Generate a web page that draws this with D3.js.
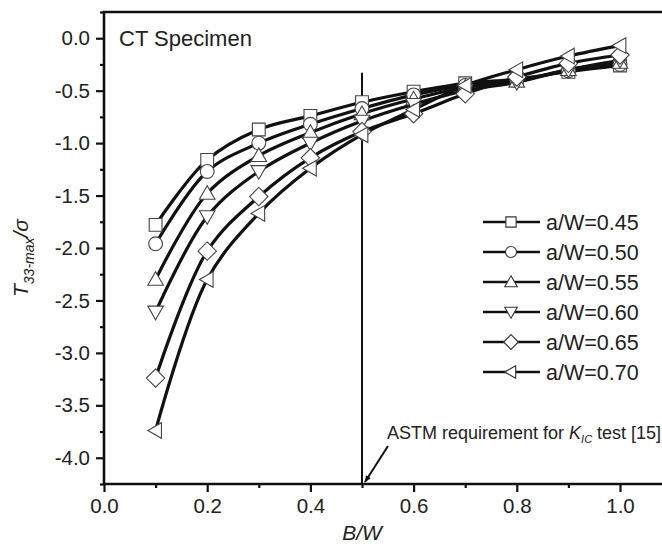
<!DOCTYPE html>
<html><head><meta charset="utf-8">
<script src="https://cdn.jsdelivr.net/npm/d3@7/dist/d3.min.js"></script>
<style>body{margin:0;background:#fff}svg{display:block}</style>
</head><body>
<svg id="chart" width="662" height="546"></svg>
<script>
// ---- data ----
const bwValues = [0.1, 0.2, 0.3, 0.4, 0.5, 0.6, 0.7, 0.8, 0.9, 1.0];
const seriesNames = ["a/W=0.45", "a/W=0.50", "a/W=0.55", "a/W=0.60", "a/W=0.65", "a/W=0.70"];
const aw045 = [-1.78, -1.16, -0.87, -0.74, -0.61, -0.51, -0.43, -0.39, -0.32, -0.26];
const aw050 = [-1.96, -1.27, -1.00, -0.82, -0.67, -0.54, -0.45, -0.40, -0.31, -0.25];
const aw055 = [-2.30, -1.48, -1.12, -0.90, -0.72, -0.58, -0.47, -0.41, -0.30, -0.23];
const aw060 = [-2.61, -1.70, -1.27, -1.00, -0.79, -0.63, -0.50, -0.42, -0.30, -0.21];
const aw065 = [-3.24, -2.03, -1.51, -1.14, -0.89, -0.72, -0.53, -0.37, -0.24, -0.16];
const aw070 = [-3.74, -2.30, -1.67, -1.24, -0.92, -0.68, -0.45, -0.30, -0.17, -0.07];
const seriesValues = [aw045, aw050, aw055, aw060, aw065, aw070];
const markerTypes = ["square", "circle", "triUp", "triDown", "diamond", "triLeft"];
const xTickValues = [0.0, 0.2, 0.4, 0.6, 0.8, 1.0];
const yTickValues = [0.0, -0.5, -1.0, -1.5, -2.0, -2.5, -3.0, -3.5, -4.0];
const astmBW = 0.5;

// ---- layout ----
const svg = d3.select("#chart");
const FONT = "'Liberation Sans', Arial, sans-serif";
const x = d3.scaleLinear().domain([0, 1.1]).range([104, 671.6]);
const y = d3.scaleLinear().domain([-4.25, 0.25]).range([484, 12]);

function markerPath(type, k) {
  const p = d3.path();
  if (type === "square") { const h = 6.4 * k; p.rect(-h, -h, 2 * h, 2 * h); }
  else if (type === "circle") { const r = 6.9 * k; p.moveTo(r, 0); p.arc(0, 0, r, 0, 2 * Math.PI); }
  else if (type === "triUp") { const h = 7.8 * k; p.moveTo(0, -h); p.lineTo(h, h * 0.75); p.lineTo(-h, h * 0.75); p.closePath(); }
  else if (type === "triDown") { const h = 7.8 * k; p.moveTo(0, h); p.lineTo(h, -h * 0.75); p.lineTo(-h, -h * 0.75); p.closePath(); }
  else if (type === "diamond") { const h = 9.2 * k; p.moveTo(0, -h); p.lineTo(h, 0); p.lineTo(0, h); p.lineTo(-h, 0); p.closePath(); }
  else if (type === "triLeft") { const h = 7.8 * k; p.moveTo(-h, 0); p.lineTo(h * 0.75, -h); p.lineTo(h * 0.75, h); p.closePath(); }
  return p.toString();
}

// axes
const xAxis = d3.axisBottom(x).tickValues(xTickValues).tickFormat(d3.format(".1f")).tickSize(8).tickPadding(6);
const xMinor = d3.axisBottom(x).tickValues([0.1, 0.3, 0.5, 0.7, 0.9]).tickFormat("").tickSize(4);
const yAxis = d3.axisLeft(y).tickValues(yTickValues).tickFormat(d => d3.format(".1f")(d).replace("−", "-")).tickSize(8).tickPadding(6);
const yMinor = d3.axisLeft(y).tickValues([0.25, -0.25, -0.75, -1.25, -1.75, -2.25, -2.75, -3.25, -3.75, -4.25]).tickFormat("").tickSize(4);

function styleAxis(g) {
  g.select(".domain").remove();
  g.selectAll(".tick line").attr("stroke", "#111").attr("stroke-width", 2.2);
  g.selectAll(".tick text").attr("font-family", FONT).attr("font-size", 20.5).attr("fill", "#222");
}
svg.append("g").attr("transform", `translate(0,${y(-4.25)})`).call(xAxis).call(styleAxis);
svg.append("g").attr("transform", `translate(0,${y(-4.25)})`).call(xMinor).call(styleAxis);
svg.append("g").attr("transform", `translate(${x(0)},0)`).call(yAxis).call(styleAxis);
svg.append("g").attr("transform", `translate(${x(0)},0)`).call(yMinor).call(styleAxis);

// frame
svg.append("path")
  .attr("d", `M${x(1.1)},${y(0.25)}H${x(0)}V${y(-4.25)}H${x(1.1)}`)
  .attr("fill", "none").attr("stroke", "#111").attr("stroke-width", 2.6);

// curves
const line = d3.line().x(d => x(d[0])).y(d => y(d[1])).curve(d3.curveCatmullRom.alpha(0.5));
seriesValues.forEach((vals, i) => {
  const pts = bwValues.map((b, j) => [b, vals[j]]);
  svg.append("path").attr("d", line(pts)).attr("fill", "none")
    .attr("stroke", "#111").attr("stroke-width", 3.2);
});

// ASTM vertical line
svg.append("line").attr("x1", x(astmBW)).attr("x2", x(astmBW))
  .attr("y1", y(-0.33)).attr("y2", y(-4.25))
  .attr("stroke", "#111").attr("stroke-width", 2);

// markers
seriesValues.forEach((vals, i) => {
  svg.append("g").selectAll("path").data(bwValues.map((b, j) => [b, vals[j]])).join("path")
    .attr("transform", d => `translate(${x(d[0])},${y(d[1])})`)
    .attr("d", markerPath(markerTypes[i], 1))
    .attr("fill", "#fff").attr("stroke", "#444").attr("stroke-width", 1.1);
});

// text: CT Specimen
svg.append("text").attr("x", 119).attr("y", 46).attr("font-family", FONT)
  .attr("font-size", 22).attr("fill", "#222").text("CT Specimen");

// legend
const legY0 = 222, legDy = 30;
seriesNames.forEach((name, i) => {
  const g = svg.append("g").attr("transform", `translate(0,${legY0 + i * legDy})`);
  g.append("line").attr("x1", 483).attr("x2", 540).attr("y1", 0).attr("y2", 0)
    .attr("stroke", "#111").attr("stroke-width", 2.6);
  g.append("path").attr("transform", "translate(511,0)").attr("d", markerPath(markerTypes[i], 0.8))
    .attr("fill", "#fff").attr("stroke", "#333").attr("stroke-width", 1.1);
  g.append("text").attr("x", 546).attr("y", 7.5).attr("font-family", FONT)
    .attr("font-size", 21.5).attr("fill", "#222").text(name);
});

// annotation
svg.append("defs").append("marker").attr("id", "ah").attr("viewBox", "0 0 10 10")
  .attr("refX", 9).attr("refY", 5).attr("markerWidth", 7).attr("markerHeight", 7)
  .attr("orient", "auto-start-reverse").attr("markerUnits", "userSpaceOnUse")
  .append("path").attr("d", "M0,1L10,5L0,9z").attr("fill", "#111");
svg.append("line").attr("x1", 388).attr("y1", 446).attr("x2", x(astmBW) + 3).attr("y2", y(-4.25) - 2)
  .attr("stroke", "#111").attr("stroke-width", 2).attr("marker-end", "url(#ah)");
const ann = svg.append("text").attr("x", 387).attr("y", 439)
  .attr("font-family", "'Liberation Sans Narrow', 'Arial Narrow', 'Liberation Sans', sans-serif")
  .attr("font-size", 18).attr("fill", "#222");
ann.append("tspan").text("ASTM requirement for ");
ann.append("tspan").attr("font-style", "italic").text("K");
ann.append("tspan").attr("font-style", "italic").attr("font-size", 11).attr("dy", 4).text("IC");
ann.append("tspan").attr("dy", -4).text(" test [15]");

// axis titles
svg.append("text").attr("x", x(0.5)).attr("y", 540).attr("text-anchor", "middle")
  .attr("font-family", FONT).attr("font-style", "italic").attr("font-size", 21).attr("fill", "#222").text("B/W");
const yl = svg.append("text").attr("transform", "translate(28,258) rotate(-90)").attr("text-anchor", "middle")
  .attr("font-family", FONT).attr("font-style", "italic").attr("font-size", 21).attr("fill", "#222");
yl.append("tspan").text("T");
yl.append("tspan").attr("font-size", 14).attr("dy", 6).text("33-max");
yl.append("tspan").attr("dy", -6).text("/σ");
</script>
</body></html>
